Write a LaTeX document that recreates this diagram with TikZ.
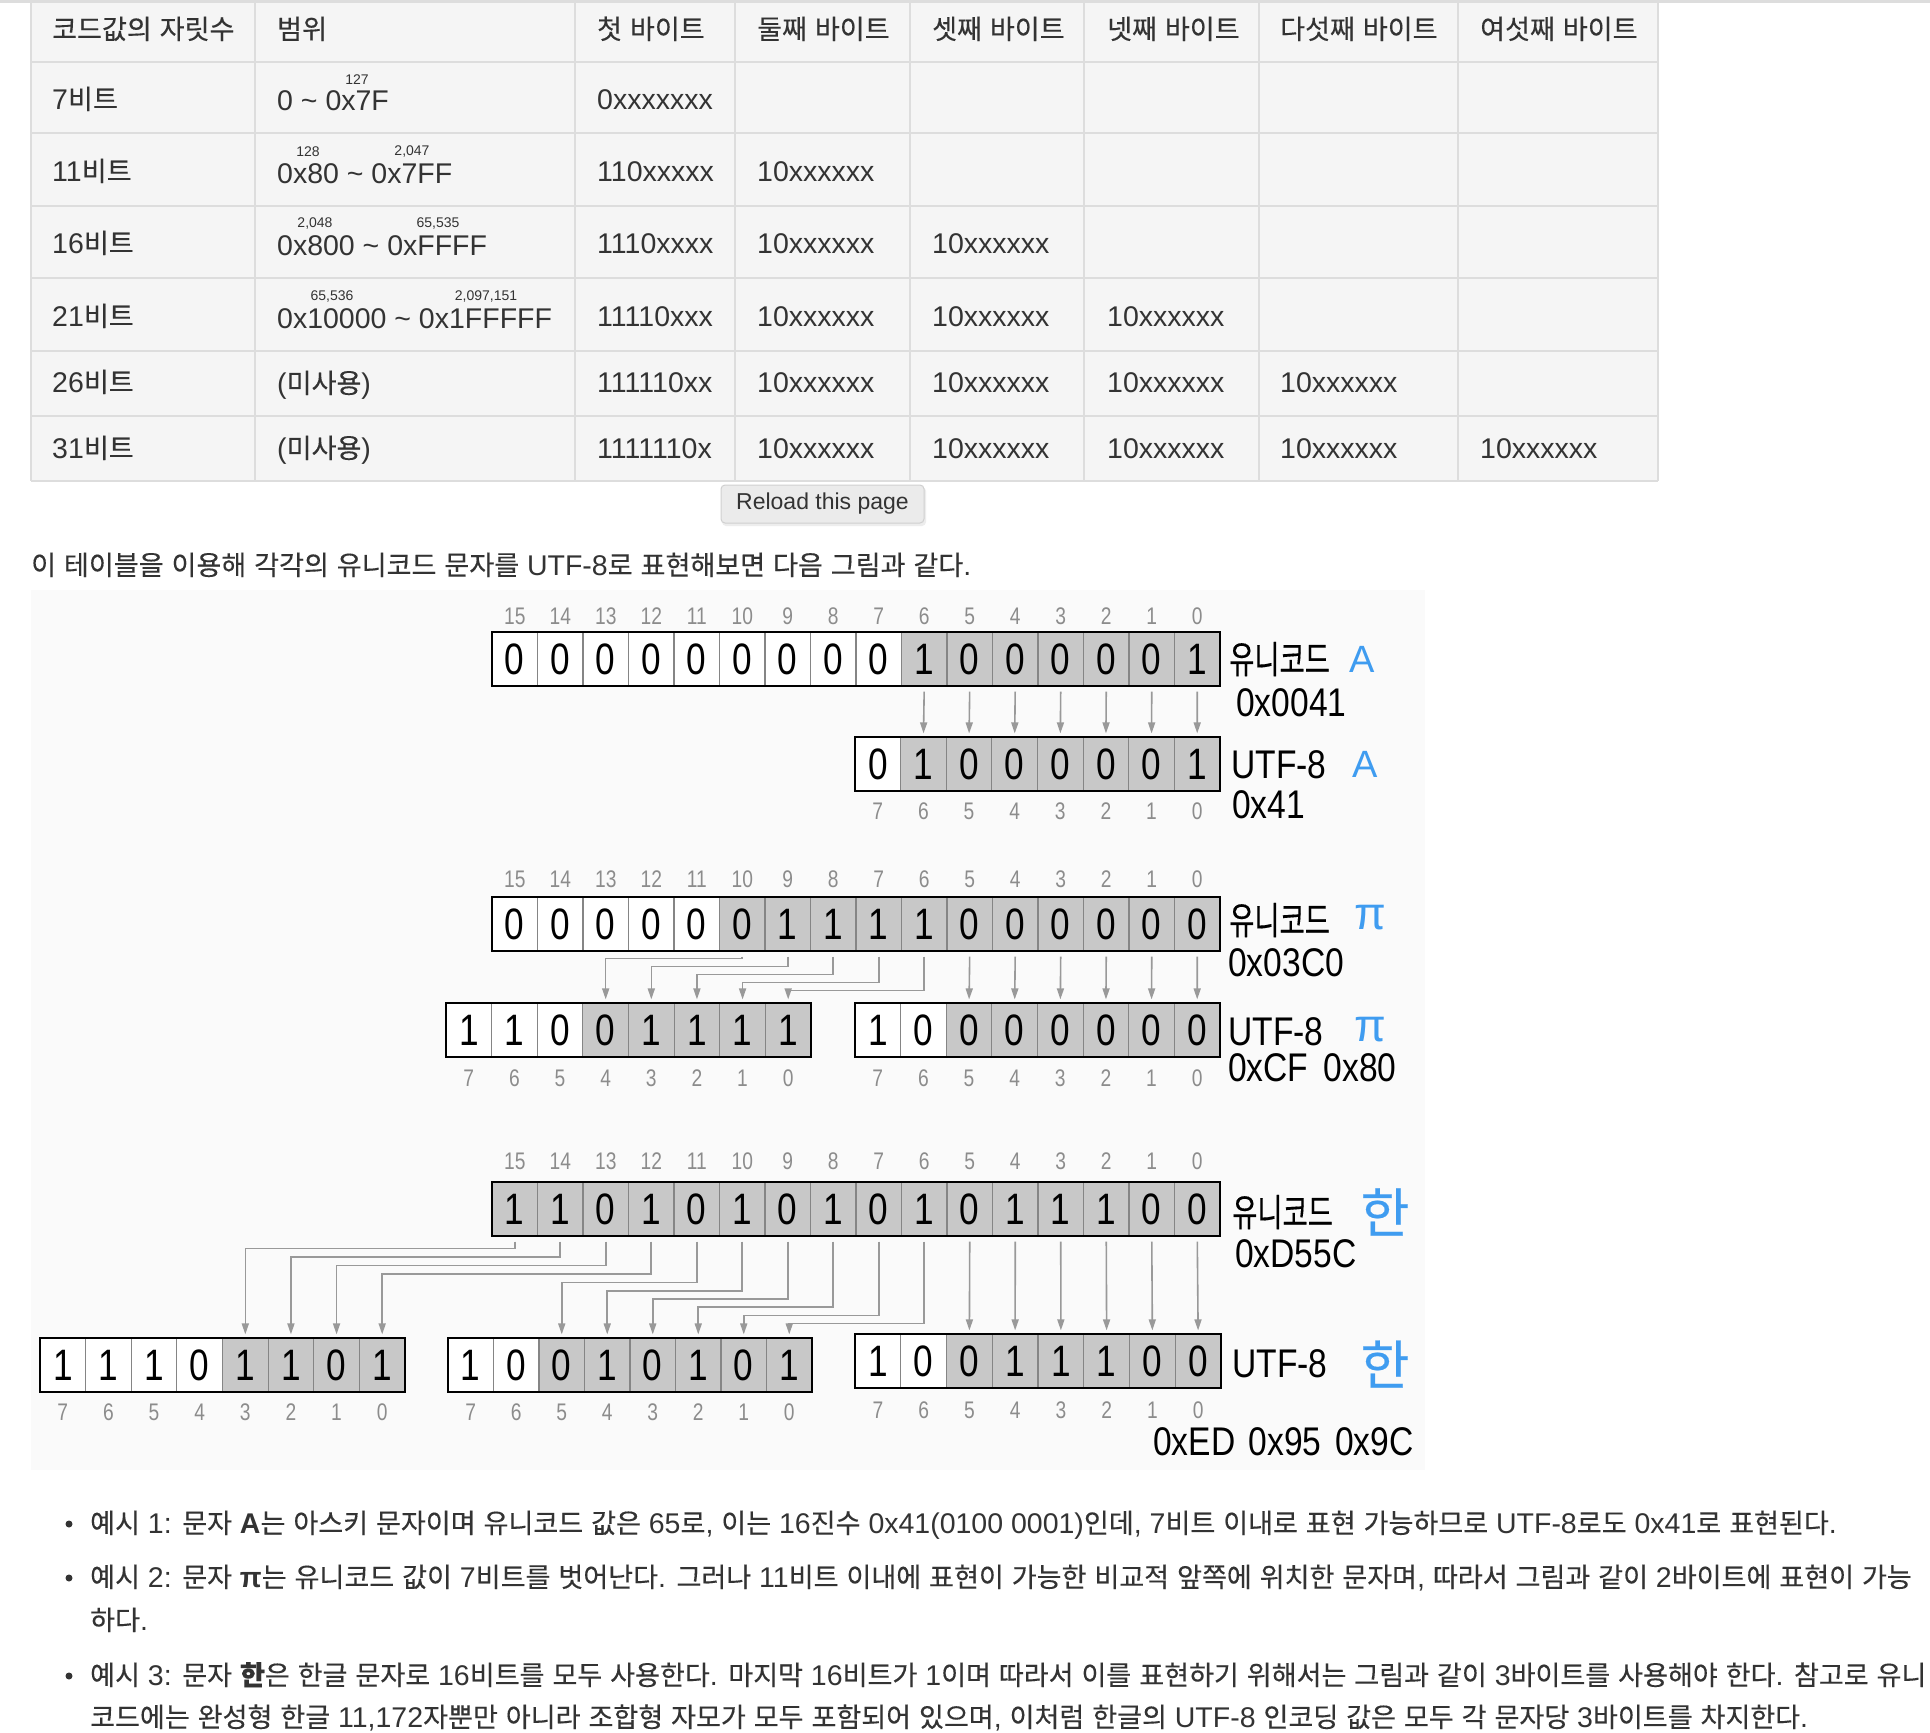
\documentclass[tikz,border=0pt]{standalone}
\usepackage{fontspec}
\usepackage{graphicx}
\usetikzlibrary{arrows.meta}
\setmainfont{Liberation Sans}
\newfontfamily\hanfont{Noto Sans CJK KR}[Scale=0.95, FakeBold=0.3]
\XeTeXinterchartokenstate=1
\newXeTeXintercharclass\HanClass
\newcount\hcnt
\hcnt="AC00
\loop
\XeTeXcharclass\hcnt=\HanClass
\advance\hcnt by 1
\ifnum\hcnt<"D7A4
\repeat
\XeTeXinterchartoks 0 \HanClass = {\begingroup\hanfont}
\XeTeXinterchartoks 4095 \HanClass = {\begingroup\hanfont}
\XeTeXinterchartoks \HanClass 0 = {\endgroup}
\XeTeXinterchartoks \HanClass 4095 = {\endgroup}
\definecolor{txt}{HTML}{333333}
\definecolor{tablebg}{HTML}{F5F5F5}
\definecolor{tableline}{HTML}{DDDDDD}
\definecolor{cellgray}{HTML}{C8C8C8}
\definecolor{cellline}{HTML}{858585}
\definecolor{arrgray}{HTML}{999999}
\definecolor{labgray}{HTML}{8C8C8C}
\definecolor{keyblue}{HTML}{3F9CF0}
\definecolor{btnfill}{HTML}{EBEBEB}
\definecolor{btnline}{HTML}{D0D0D0}
\definecolor{figbg}{HTML}{FAFAFA}
\newcommand\celldigit[1]{\scalebox{0.8}[1]{\fontsize{44}{44}\selectfont #1}}
\newcommand\labdigit[1]{\scalebox{0.8}[1]{\fontsize{24}{24}\selectfont #1}}
\newcommand\handtxt[1]{\scalebox{0.84}[1]{\fontsize{40}{40}\selectfont #1}}
\newcommand\handkor[1]{\scalebox{0.72}[1]{\fontsize{40}{40}\selectfont #1}}
\newcommand\bitrow[8]{%
  \foreach \b [count=\i from 0] in {#7}{%
    \pgfmathsetmacro\cx{#3+(\i+0.5)*#5}%
    \pgfmathtruncatemacro\bn{#2-1-\i}%
    \ifnum\i<#8\relax\def\cellfill{white}\else\def\cellfill{cellgray}\fi
    \node[bitcell, fill=\cellfill, minimum width=#5pt, minimum height=#6pt] (#1-\bn) at (\cx,#4+#6/2) {\celldigit{\b}};
  }%
  \draw[outerbox] (#3,#4) rectangle ++(#2*#5,#6);
}
\newcommand\bitlabels[3]{%
  \coordinate (lrow) at (0,#3);
  \foreach \k in {0,...,#2}{\node[bitlab] at (#1-\k |- lrow) {\labdigit{\k}};}
}
\begin{document}
\begin{tikzpicture}[x=1pt,y=-1pt,
  ttext/.style={anchor=base west, inner sep=0pt, text=txt, font=\fontsize{28.5}{34}\selectfont},
  supnum/.style={anchor=center, inner sep=0pt, text=txt, font=\fontsize{14}{14}\selectfont},
  bitcell/.style={draw=cellline, line width=1.2pt, inner sep=0pt, anchor=center},
  outerbox/.style={draw=black, line width=2.8pt},
  bitarrow/.style={draw=arrgray, line width=1.6pt, -{Triangle[length=11pt,width=7pt]}, shorten <=5pt, shorten >=3pt},
  bitlab/.style={text=labgray, inner sep=0pt, anchor=center},
  handlab/.style={anchor=west, inner sep=0pt, text=black},
  bluechar/.style={anchor=center, inner sep=0pt, text=keyblue}
]
\useasboundingbox (0,0) rectangle (1930,1732);
\fill[white] (0,0) rectangle (1930,1732);

% ---------- table ----------
\fill[tablebg] (31,2) rectangle (1658,481);
\foreach \yy in {62,133,206,278,351,416,481} \draw[tableline, line width=2.4pt] (31,\yy) -- (1658,\yy);
\foreach \xx in {31,255,575,735,910,1084,1259,1458,1658} \draw[tableline, line width=1.8pt] (\xx,2) -- (\xx,481);
\draw[tableline, line width=3pt] (0,1.5) -- (1930,1.5);

\node[ttext] (h1) at (52,39) {코드값의 자릿수};
\node[ttext] (h2) at (277,39) {범위};
\node[ttext] (h3) at (597,39) {첫 바이트};
\node[ttext] (h4) at (757,39) {둘째 바이트};
\node[ttext] (h5) at (932,39) {셋째 바이트};
\node[ttext] (h6) at (1107,39) {넷째 바이트};
\node[ttext] (h7) at (1280,39) {다섯째 바이트};
\node[ttext] (h8) at (1480,39) {여섯째 바이트};

\node[ttext] (r1a) at (52,109) {7비트};
\node[ttext] (r1b) at (277,110.5) {0 \textasciitilde{} 0x7F};
\node[supnum] (r1s) at (357,80) {127};
\node[ttext] (r1c) at (597,109) {0xxxxxxx};

\node[ttext] (r2a) at (52,181) {11비트};
\node[ttext] (r2b) at (277,183) {0x80 \textasciitilde{} 0x7FF};
\node[supnum] (r2s1) at (308,152) {128};
\node[supnum] (r2s2) at (412,152) {2,047};
\node[ttext] (r2c) at (597,181) {110xxxxx};
\node[ttext] (r2d) at (757,181) {10xxxxxx};

\node[ttext] (r3a) at (52,253) {16비트};
\node[ttext] (r3b) at (277,255.5) {0x800 \textasciitilde{} 0xFFFF};
\node[supnum] (r3s1) at (315,224) {2,048};
\node[supnum] (r3s2) at (438,224) {65,535};
\node[ttext] (r3c) at (597,253) {1110xxxx};
\node[ttext] (r3d) at (757,253) {10xxxxxx};
\node[ttext] (r3e) at (932,253) {10xxxxxx};

\node[ttext] (r4a) at (52,326) {21비트};
\node[ttext] (r4b) at (277,328) {0x10000 \textasciitilde{} 0x1FFFFF};
\node[supnum] (r4s1) at (332,297) {65,536};
\node[supnum] (r4s2) at (486,297) {2,097,151};
\node[ttext] (r4c) at (597,326) {11110xxx};
\node[ttext] (r4d) at (757,326) {10xxxxxx};
\node[ttext] (r4e) at (932,326) {10xxxxxx};
\node[ttext] (r4f) at (1107,326) {10xxxxxx};

\node[ttext] (r5a) at (52,392) {26비트};
\node[ttext] (r5b) at (277,393) {(미사용)};
\node[ttext] (r5c) at (597,392) {111110xx};
\node[ttext] (r5d) at (757,392) {10xxxxxx};
\node[ttext] (r5e) at (932,392) {10xxxxxx};
\node[ttext] (r5f) at (1107,392) {10xxxxxx};
\node[ttext] (r5g) at (1280,392) {10xxxxxx};

\node[ttext] (r6a) at (52,458) {31비트};
\node[ttext] (r6b) at (277,458) {(미사용)};
\node[ttext] (r6c) at (597,458) {1111110x};
\node[ttext] (r6d) at (757,458) {10xxxxxx};
\node[ttext] (r6e) at (932,458) {10xxxxxx};
\node[ttext] (r6f) at (1107,458) {10xxxxxx};
\node[ttext] (r6g) at (1280,458) {10xxxxxx};
\node[ttext] (r6h) at (1480,458) {10xxxxxx};

% ---------- button ----------
\fill[black!7, rounded corners=4pt] (722,487) rectangle (926,526);
\draw[btnline, fill=btnfill, rounded corners=4pt, line width=1pt] (721,485) rectangle (924,523);
\node[inner sep=0pt, text=txt, font=\fontsize{23}{23}\selectfont] (btn) at (822.5,504) {Reload this page};

% ---------- intro ----------
\node[ttext] (intro) at (31,575) {이 테이블을 이용해 각각의 유니코드 문자를 UTF-8로 표현해보면 다음 그림과 같다.};

% ---------- figure background ----------
\fill[figbg] (31,590) rectangle (1425,1470);

% ---------- diagram A ----------
\bitrow{uA}{16}{492}{632}{45.5}{54}{0,0,0,0,0,0,0,0,0,1,0,0,0,0,0,1}{9}
\bitrow{bA}{8}{855}{737}{45.625}{54}{0,1,0,0,0,0,0,1}{1}
\bitlabels{uA}{15}{616}
\bitlabels{bA}{7}{811}
\foreach \k in {0,...,6} \draw[bitarrow] (uA-\k.south) -- (bA-\k.north);
\node[handlab] (uAt) at (1229,659) {\handkor{유니코드}};
\node[bluechar, font=\fontsize{38}{38}\selectfont] (uAc) at (1362,659) {A};
\node[handlab] (uAh) at (1236,703) {\handtxt{0x0041}};
\node[handlab] (bAt) at (1231,765) {\handtxt{UTF-8}};
\node[bluechar, font=\fontsize{38}{38}\selectfont] (bAc) at (1365,764) {A};
\node[handlab] (bAh) at (1232,805) {\handtxt{0x41}};

% ---------- diagram pi ----------
\bitrow{uP}{16}{492}{897}{45.5}{54}{0,0,0,0,0,0,1,1,1,1,0,0,0,0,0,0}{5}
\bitrow{pa}{8}{446}{1003}{45.625}{54}{1,1,0,0,1,1,1,1}{3}
\bitrow{pb}{8}{855}{1003}{45.625}{54}{1,0,0,0,0,0,0,0}{2}
\bitlabels{uP}{15}{879}
\bitlabels{pa}{7}{1078}
\bitlabels{pb}{7}{1078}
\foreach \k in {0,...,5} \draw[bitarrow] (uP-\k.south) -- (pb-\k.north);
\foreach \k/\j in {10/4,9/3,8/2,7/1,6/0}{%
  \pgfmathsetmacro\dd{7+(10-\k)*8}
  \draw[bitarrow] (uP-\k.south) -- ++(0,\dd) -| (pa-\j.north);
}
\node[handlab] (uPt) at (1229,920) {\handkor{유니코드}};
\node[bluechar, font=\fontsize{46}{46}\selectfont] (uPc) at (1370,918) {π};
\node[handlab] (uPh) at (1228,963) {\handtxt{0x03C0}};
\node[handlab] (bPt) at (1228,1032) {\handtxt{UTF-8}};
\node[bluechar, font=\fontsize{46}{46}\selectfont] (bPc) at (1370,1030) {π};
\node[handlab] (bPh) at (1228,1068) {\handtxt{0xCF\hspace{18pt}0x80}};

% ---------- diagram han ----------
\bitrow{uH}{16}{492}{1182}{45.5}{54}{1,1,0,1,0,1,0,1,0,1,0,1,1,1,0,0}{0}
\bitrow{ha}{8}{40}{1338}{45.625}{54}{1,1,1,0,1,1,0,1}{4}
\bitrow{hb}{8}{448}{1338}{45.5}{54}{1,0,0,1,0,1,0,1}{2}
\bitrow{hc}{8}{855}{1334}{45.75}{54}{1,0,0,1,1,1,0,0}{2}
\bitlabels{uH}{15}{1161}
\bitlabels{ha}{7}{1412}
\bitlabels{hb}{7}{1412}
\bitlabels{hc}{7}{1410}
\foreach \k in {0,...,5} \draw[bitarrow] (uH-\k.south) -- (hc-\k.north);
\foreach \k/\j in {15/3,14/2,13/1,12/0}{%
  \pgfmathsetmacro\dd{12+(15-\k)*8.5}
  \draw[bitarrow] (uH-\k.south) -- ++(0,\dd) -| (ha-\j.north);
}
\foreach \k/\j in {11/5,10/4,9/3,8/2,7/1,6/0}{%
  \pgfmathsetmacro\dd{46+(11-\k)*8.2}
  \draw[bitarrow] (uH-\k.south) -- ++(0,\dd) -| (hb-\j.north);
}
\node[handlab] (uHt) at (1232,1212) {\handkor{유니코드}};
\node[bluechar, font=\fontsize{56}{56}\selectfont] (uHc) at (1385,1212) {한};
\node[handlab] (uHh) at (1235,1254) {\handtxt{0xD55C}};
\node[handlab] (bHt) at (1232,1364) {\handtxt{UTF-8}};
\node[bluechar, font=\fontsize{56}{56}\selectfont] (bHc) at (1385,1364) {한};
\node[handlab] (bHh) at (1153,1442) {\handtxt{0xED\hspace{16pt}0x95\hspace{16pt}0x9C}};

% ---------- bullets ----------
\fill[txt] (69,1524) circle[radius=3.5pt];
\fill[txt] (69,1578) circle[radius=3.5pt];
\fill[txt] (69,1676) circle[radius=3.5pt];
\node[ttext] (p1) at (90,1533) {예시 1: 문자 \textbf{A}는 아스키 문자이며 유니코드 값은 65로, 이는 16진수 0x41(0100 0001)인데, 7비트 이내로 표현 가능하므로 UTF-8로도 0x41로 표현된다.};
\node[ttext] (p2) at (90,1587) {예시 2: 문자 \textbf{π}는 유니코드 값이 7비트를 벗어난다. 그러나 11비트 이내에 표현이 가능한 비교적 앞쪽에 위치한 문자며, 따라서 그림과 같이 2바이트에 표현이 가능};
\node[ttext] (p2b) at (90,1630) {하다.};
\node[ttext] (p3) at (90,1685) {예시 3: 문자 \textbf{한}은 한글 문자로 16비트를 모두 사용한다. 마지막 16비트가 1이며 따라서 이를 표현하기 위해서는 그림과 같이 3바이트를 사용해야 한다. 참고로 유니};
\node[ttext] (p3b) at (90,1727) {코드에는 완성형 한글 11,172자뿐만 아니라 조합형 자모가 모두 포함되어 있으며, 이처럼 한글의 UTF-8 인코딩 값은 모두 각 문자당 3바이트를 차지한다.};
\end{tikzpicture}
\end{document}
